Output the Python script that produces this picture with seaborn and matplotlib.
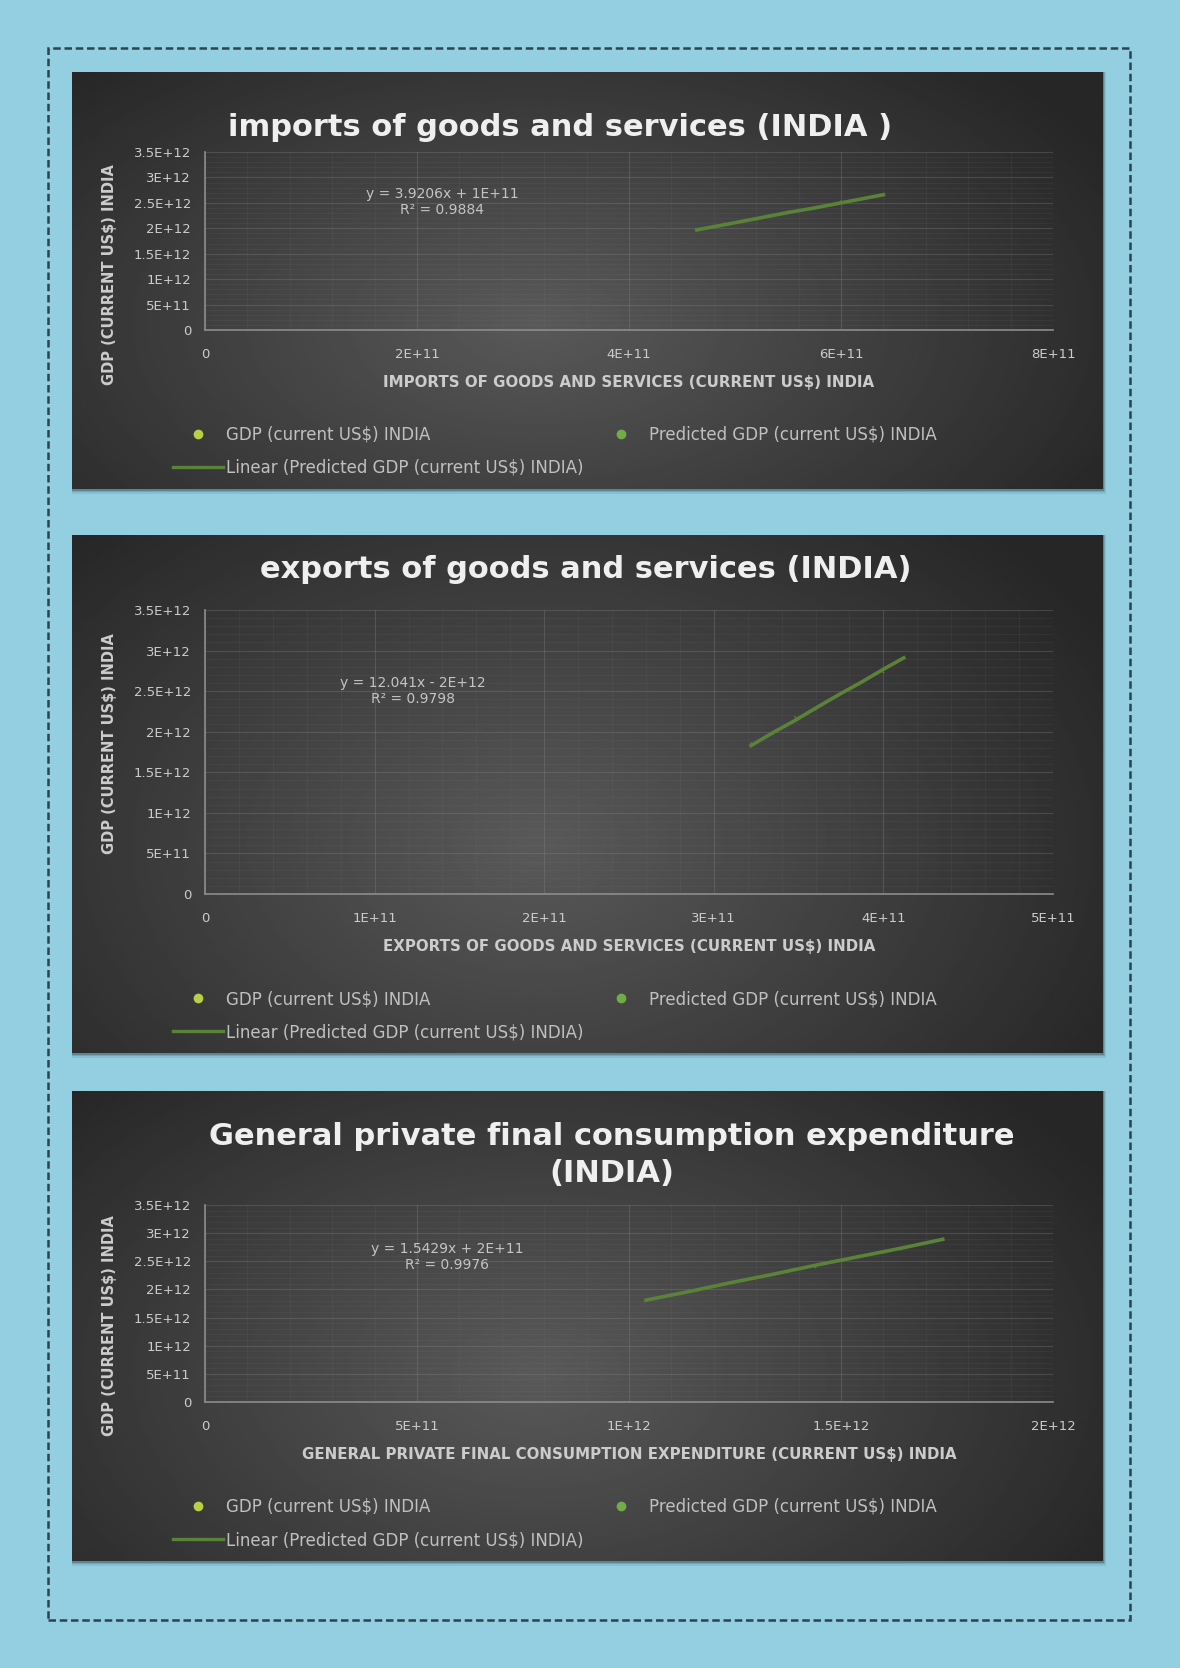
import numpy as np
import pandas as pd
import matplotlib
matplotlib.use("Agg")
import matplotlib.pyplot as plt
from matplotlib.patches import Rectangle
from matplotlib.lines import Line2D
from matplotlib.ticker import FixedLocator, AutoMinorLocator
import seaborn as sns

# ---- data ----
imports_x = [4.64e11, 4.90e11, 5.20e11, 5.50e11, 5.75e11, 6.00e11, 6.20e11, 6.40e11]
imports_gdp = [1.95e12, 2.10e12, 2.17e12, 2.33e12, 2.38e12, 2.53e12, 2.56e12, 2.67e12]
imports_pred = [1.97e12, 2.07e12, 2.19e12, 2.31e12, 2.40e12, 2.50e12, 2.58e12, 2.66e12]

exports_x = [3.22e11, 3.35e11, 3.48e11, 3.60e11, 3.74e11, 3.87e11, 4.00e11, 4.12e11]
exports_gdp = [1.86e12, 1.97e12, 2.18e12, 2.27e12, 2.45e12, 2.60e12, 2.73e12, 2.90e12]
exports_pred = [1.83e12, 1.99e12, 2.14e12, 2.29e12, 2.46e12, 2.61e12, 2.77e12, 2.91e12]

gpfce_x = [1.04e12, 1.14e12, 1.24e12, 1.34e12, 1.44e12, 1.54e12, 1.64e12, 1.74e12]
gpfce_gdp = [1.79e12, 1.98e12, 2.11e12, 2.28e12, 2.39e12, 2.60e12, 2.71e12, 2.90e12]
gpfce_pred = [1.81e12, 1.96e12, 2.12e12, 2.27e12, 2.43e12, 2.58e12, 2.73e12, 2.89e12]

y_ticks = [0, 5e11, 1e12, 1.5e12, 2e12, 2.5e12, 3e12, 3.5e12]
y_labels = ["0", "5E+11", "1E+12", "1.5E+12", "2E+12", "2.5E+12", "3E+12", "3.5E+12"]

imp_ticks = [0, 2e11, 4e11, 6e11, 8e11]
imp_labels = ["0", "2E+11", "4E+11", "6E+11", "8E+11"]
exp_ticks = [0, 1e11, 2e11, 3e11, 4e11, 5e11]
exp_labels = ["0", "1E+11", "2E+11", "3E+11", "4E+11", "5E+11"]
gp_ticks = [0, 5e11, 1e12, 1.5e12, 2e12]
gp_labels = ["0", "5E+11", "1E+12", "1.5E+12", "2E+12"]

titles = ["imports of goods and services (INDIA )",
          "exports of goods and services (INDIA)",
          "General private final consumption expenditure\n(INDIA)"]
xlabels = ["IMPORTS OF GOODS AND SERVICES (CURRENT US$) INDIA",
           "EXPORTS OF GOODS AND SERVICES (CURRENT US$) INDIA",
           "GENERAL PRIVATE FINAL CONSUMPTION EXPENDITURE (CURRENT US$) INDIA"]
equations = ["y = 3.9206x + 1E+11\nR² = 0.9884",
             "y = 12.041x - 2E+12\nR² = 0.9798",
             "y = 1.5429x + 2E+11\nR² = 0.9976"]

W, H = 1180, 1668
BG = "#93cfe1"
TXT = "#cccccc"
LINE = "#5a8238"

def fr(x0, y0, x1, y1):
    return [x0 / W, 1 - y1 / H, (x1 - x0) / W, (y1 - y0) / H]

fig = plt.figure(figsize=(W / 100, H / 100), dpi=100, facecolor=BG)
fig.patches.append(Rectangle((48 / W, 1 - 1620 / H), (1130 - 48) / W, (1620 - 48) / H,
                             transform=fig.transFigure, fill=False, ls=(0, (3, 1.5)),
                             ec="#2a4450", lw=1.8, zorder=-2))

# panel boxes (pixels) and plot areas
panels = [(72, 72, 1103, 489), (72, 535, 1103, 1053), (72, 1091, 1103, 1561)]
plots = [(205, 152, 1053, 330), (205, 610, 1053, 894), (205, 1205, 1053, 1402)]
title_xy = [(560, 127), (586, 569), (612, 1155)]
eq_pos = [(442, 202), (413, 691), (447, 1257)]
ylab_pos = [0.31, 0.53, 0.39]
datasets = [(imports_x, imports_gdp, imports_pred, imp_ticks, imp_labels),
            (exports_x, exports_gdp, exports_pred, exp_ticks, exp_labels),
            (gpfce_x, gpfce_gdp, gpfce_pred, gp_ticks, gp_labels)]

# gradient for the dark panels
gx, gy = np.meshgrid(np.linspace(0, 1, 300), np.linspace(0, 1, 200))
r = np.sqrt(((gx - 0.45) / 0.7) ** 2 + ((gy - 0.6) / 0.95) ** 2)
grad = np.clip(0.35 - 0.22 * r, 0.15, 0.35)

for i in range(3):
    px0, py0, px1, py1 = panels[i]
    # soft shadow behind the panel
    for k, a in [(5, 0.10), (3, 0.18), (1.5, 0.3)]:
        fig.patches.append(Rectangle((px0 / W, 1 - (py1 + k) / H), (px1 - px0 + k * 0.6) / W,
                                     (py1 - py0 + k) / H, transform=fig.transFigure,
                                     color="#1e3a44", alpha=a, lw=0, zorder=-1))
    bg = fig.add_axes(fr(px0, py0, px1, py1))
    bg.imshow(grad, cmap="gray", vmin=0, vmax=1, aspect="auto", extent=[0, 1, 0, 1])
    bg.axis("off")

    xs, gdp, pred, xt, xl = datasets[i]
    ax = fig.add_axes(fr(*plots[i]))
    ax.patch.set_alpha(0)
    df = pd.DataFrame({"x": xs, "gdp": gdp, "pred": pred})

    sns.lineplot(data=df, x="x", y="pred", ax=ax, color=LINE, lw=2.6, zorder=3)
    sns.scatterplot(data=df, x="x", y="pred", ax=ax, color=LINE, s=3,
                    edgecolor="none", zorder=4)
    sns.scatterplot(data=df, x="x", y="gdp", ax=ax, color="#9fb04a", s=2,
                    edgecolor="none", alpha=0.4, zorder=2)

    ax.set_xlim(0, xt[-1])
    ax.set_ylim(0, 3.5e12)
    ax.xaxis.set_major_locator(FixedLocator(xt))
    ax.yaxis.set_major_locator(FixedLocator(y_ticks))
    ax.set_xticklabels(xl)
    ax.set_yticklabels(y_labels)
    ax.xaxis.set_minor_locator(AutoMinorLocator(5))
    ax.yaxis.set_minor_locator(AutoMinorLocator(5))
    ax.grid(which="major", color="#8a8a8a", lw=0.8, alpha=0.3)
    ax.grid(which="minor", color="#8a8a8a", lw=0.5, alpha=0.12)
    ax.tick_params(axis="x", which="both", length=0, colors=TXT, labelsize=9.5, pad=13)
    ax.tick_params(axis="y", which="both", length=0, colors=TXT, labelsize=9.5, pad=10)
    for s in ["top", "right"]:
        ax.spines[s].set_visible(False)
    for s in ["left", "bottom"]:
        ax.spines[s].set_color("#8c8c8c")
        ax.spines[s].set_linewidth(1.2)
    ax.set_xlabel(xlabels[i], color=TXT, fontsize=10.8, fontweight="bold", labelpad=10)
    ax.set_ylabel("GDP (CURRENT US$) INDIA", color=TXT, fontsize=10.5,
                  fontweight="bold")
    ax.yaxis.set_label_coords(-0.104, ylab_pos[i])

    tx, ty = title_xy[i]
    fig.text(tx / W, 1 - ty / H, titles[i], ha="center",
             va="center", color="#efefef", fontsize=22, fontweight="bold",
             linespacing=1.35)
    ex, ey = eq_pos[i]
    fig.text(ex / W, 1 - ey / H, equations[i], ha="center", va="center",
             color="#c4c4c4", fontsize=10, linespacing=1.25)

    h_gdp = Line2D([], [], ls="none", marker="o", ms=7, color="#b9cf45", mec="none")
    h_lin = Line2D([], [], color=LINE, lw=2.4)
    h_pred = Line2D([], [], ls="none", marker="o", ms=7, color="#6fae45", mec="none")
    ax.legend([h_gdp, h_lin, h_pred],
              ["GDP (current US$) INDIA",
               "Linear (Predicted GDP (current US$) INDIA)",
               "Predicted GDP (current US$) INDIA"],
              ncol=2, loc="upper left", frameon=False, fontsize=12,
              labelcolor="#c0c0c0", columnspacing=0.7, handlelength=3.0,
              handletextpad=0.2, labelspacing=0.9,
              bbox_to_anchor=(158 / W, 1 - (plots[i][3] + 81) / H),
              bbox_transform=fig.transFigure)

fig.savefig("out.png", dpi=100, facecolor=BG)
